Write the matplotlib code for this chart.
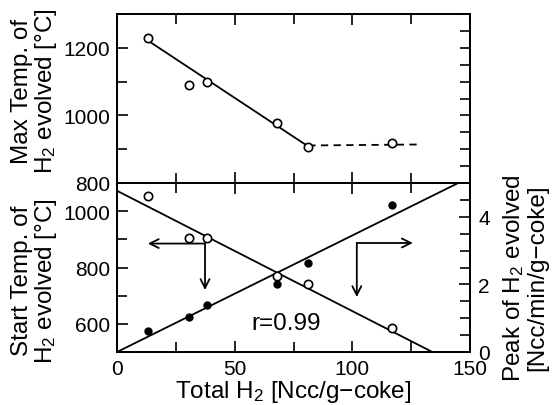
import matplotlib
matplotlib.use("Agg")
import matplotlib.pyplot as plt
from matplotlib.ticker import MultipleLocator

plt.rcParams['font.family'] = ['Liberation Sans', 'DejaVu Sans']
plt.rcParams['mathtext.fontset'] = 'custom'
plt.rcParams['mathtext.rm'] = 'Liberation Sans'
plt.rcParams['mathtext.it'] = 'Liberation Sans'

# ---- data ----
total_h2 = [13.0, 30.7, 38.1, 67.8, 81.3, 117.0]
max_temp = [1230, 1091, 1098, 978, 906, 919]
max_fit_x = [13.0, 81.3]
max_fit_y = [1222, 908]
max_dash_x = [81.3, 129.0]
max_dash_y = [911, 914]

start_temp = [575, 623, 667, 741, 815, 1021]      # filled, left axis
start_fit_x = [0, 145]
start_fit_y = [500, 1100]

peak_h2 = [4.61, 3.37, 3.37, 2.26, 2.01, 0.71]    # open, right axis
peak_fit_x = [0, 134]
peak_fit_y = [4.77, 0.0]

x_ticklabels = [0, 50, 100, 150]

fig = plt.figure(figsize=(5.56, 4.06), dpi=100)
L, R = 117/556, 470/556
W = R - L
top_y, mid_y, bot_y = 1-15/406, 1-184/406, 1-353/406

ax1 = fig.add_axes([L, mid_y, W, top_y-mid_y])
ax2 = fig.add_axes([L, bot_y, W, mid_y-bot_y], sharex=ax1)
ax2r = ax2.twinx()

lw = 1.3
tick_fs = 15
lab_fs = 17.5

# upper panel
ax1.plot(total_h2, max_temp, 'o', mfc='white', mec='black', ms=6, mew=1.2, zorder=3)
ax1.plot(max_fit_x, max_fit_y, '-', color='black', lw=lw)
ax1.plot(max_dash_x, max_dash_y, '--', color='black', lw=lw, dashes=(4, 3))
ax1.set_xlim(0, 150)
ax1.set_ylim(800, 1300)
ax1.yaxis.set_major_locator(MultipleLocator(200))
ax1.yaxis.set_minor_locator(MultipleLocator(100))
ax1.xaxis.set_major_locator(MultipleLocator(50))
ax1.xaxis.set_minor_locator(MultipleLocator(25))
ax1.tick_params(which='both', direction='in', top=True, bottom=True, left=True, right=False,
                labelbottom=False, labelsize=tick_fs, width=1.2, pad=5)
ax1.tick_params(which='major', length=8)
ax1.tick_params(which='minor', length=7)
ax1r = ax1.twinx()
ax1r.set_ylim(800, 1300)
ax1r.yaxis.set_major_locator(MultipleLocator(50))
ax1r.tick_params(which='both', direction='in', length=7, width=1.2, labelright=False)

# lower panel
ax2.plot(total_h2, start_temp, 'o', color='black', ms=5, zorder=3)
ax2.plot(start_fit_x, start_fit_y, '-', color='black', lw=lw)
ax2.set_ylim(500, 1100)
ax2.set_xlim(0, 150)
ax2.yaxis.set_major_locator(MultipleLocator(200))
ax2.yaxis.set_minor_locator(MultipleLocator(100))
ax2.set_yticks([600, 800, 1000])
ax2.set_xticks([0, 50, 100, 150])
ax2.set_xticklabels([str(v) for v in x_ticklabels])
ax2.tick_params(which='both', direction='in', top=True, bottom=True, left=True, right=False,
                labelsize=tick_fs, width=1.2)
ax2.tick_params(axis='y', pad=5)
ax2.tick_params(axis='x', pad=5)
ax2.tick_params(which='major', length=8)
ax2.tick_params(which='minor', length=7)

ax2r.plot(total_h2, peak_h2, 'o', mfc='white', mec='black', ms=6, mew=1.2, zorder=3)
ax2r.plot(peak_fit_x, peak_fit_y, '-', color='black', lw=lw)
ax2r.set_ylim(0, 5)
ax2r.set_yticks([0, 2, 4])
ax2r.yaxis.set_minor_locator(MultipleLocator(0.5))
ax2r.tick_params(which='both', direction='in', width=1.2, labelsize=tick_fs, pad=6)
ax2r.tick_params(which='major', length=8)
ax2r.tick_params(which='minor', length=7)

for a in (ax1, ax2, ax1r, ax2r):
    for s in a.spines.values():
        s.set_linewidth(1.3)

# arrows (left-axis coordinates)
ap = dict(arrowstyle='->', color='black', lw=1.3, mutation_scale=16, shrinkA=0, shrinkB=0)
ax2.annotate('', xy=(13.1, 885), xytext=(37.4, 885), arrowprops=ap)
ax2.annotate('', xy=(37.4, 720), xytext=(37.4, 885), arrowprops=ap)
ax2.annotate('', xy=(125.7, 887), xytext=(101.9, 887), arrowprops=ap)
ax2.annotate('', xy=(101.9, 695), xytext=(101.9, 887), arrowprops=ap)

ax2.text(71.8, 602, 'r=0.99', fontsize=lab_fs, ha='center', va='center')

ax2.set_xlabel('Total H$_2$ [Ncc/g\u2212coke]', fontsize=lab_fs, labelpad=0)

fig.text(35/556, 1-91/406, 'Max Temp. of\nH$_2$ evolved [°C]', rotation=90,
         fontsize=lab_fs, ha='center', va='center', multialignment='center', linespacing=1.0)
fig.text(35/556, 1-281/406, 'Start Temp. of\nH$_2$ evolved [°C]', rotation=90,
         fontsize=lab_fs, ha='center', va='center', multialignment='center', linespacing=1.0)
fig.text(525/556, 1-278/406, 'Peak of H$_2$ evolved\n[Ncc/min/g\u2212coke]', rotation=90,
         fontsize=lab_fs, ha='center', va='center', multialignment='center', linespacing=1.0)

fig.savefig('out.png', dpi=100)
